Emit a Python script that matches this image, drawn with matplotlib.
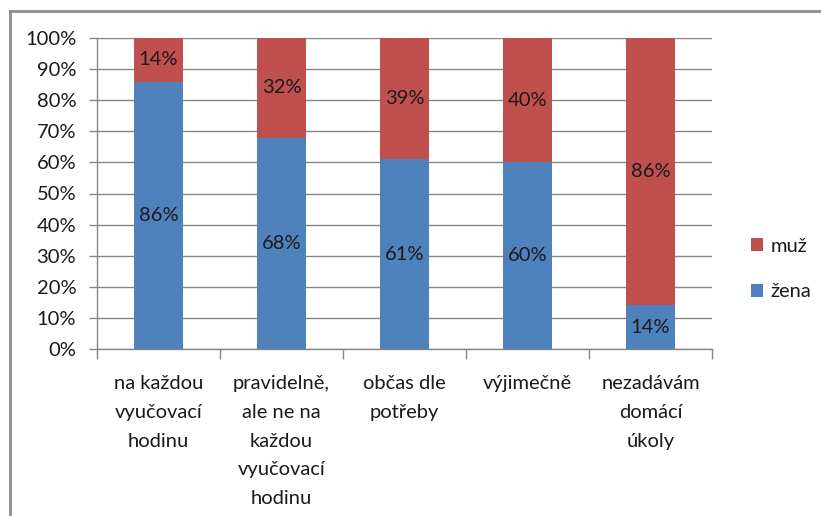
import matplotlib
matplotlib.use("Agg")
import matplotlib.pyplot as plt
from matplotlib.lines import Line2D
from matplotlib.patches import Patch
import numpy as np

plt.rcParams['font.family'] = ['Lato', 'DejaVu Sans']

categories = [
    "na každou\nvyučovací\nhodinu",
    "pravidelně,\nale ne na\nkaždou\nvyučovací\nhodinu",
    "občas dle\npotřeby",
    "výjimečně",
    "nezadávám\ndomácí\núkoly",
]
zena = [86, 68, 61, 60, 14]
muz = [14, 32, 39, 40, 86]
series_names = ["muž", "žena"]
ytick_values = list(range(0, 101, 10))

blue = "#4F81BD"
red = "#C0504D"
grid_col = "#868686"
text_col = "#1a1a1a"
fs = 14.5

fig = plt.figure(figsize=(8.21, 5.16), dpi=100)
ax = fig.add_axes([97/821, 1-349/516, 615/821, 311/516])

x = np.arange(len(categories))
w = 0.4
ax.bar(x, zena, width=w, color=blue, zorder=3)
ax.bar(x, muz, width=w, bottom=zena, color=red, zorder=3)

for i in range(len(categories)):
    ax.text(x[i], zena[i] / 2, f"{zena[i]}%", ha="center", va="center",
            fontsize=fs, color=text_col, zorder=4)
    ax.text(x[i], zena[i] + muz[i] / 2, f"{muz[i]}%", ha="center", va="center",
            fontsize=fs, color=text_col, zorder=4)

ax.set_xlim(-0.5, len(categories) - 0.5)
ax.set_ylim(0, 100)
ax.set_yticks(ytick_values)
ax.set_yticklabels([f"{v}%" for v in ytick_values], fontsize=fs, color=text_col)
ax.yaxis.grid(True, color=grid_col, lw=1, zorder=0)
ax.tick_params(axis="y", length=6, width=1, color=grid_col, pad=9)

ax.set_xticks(np.arange(-0.5, len(categories), 1.0))
ax.set_xticklabels([])
ax.tick_params(axis="x", which="major", length=7, width=1, color=grid_col)
ax.set_xticks(x, minor=True)
ax.set_xticklabels(categories, minor=True, fontsize=fs, color=text_col,
                   linespacing=1.83, va="top")
ax.tick_params(axis="x", which="minor", length=0, pad=19)

for s in ["top", "right"]:
    ax.spines[s].set_visible(False)
for s in ["left", "bottom"]:
    ax.spines[s].set_color(grid_col)
    ax.spines[s].set_linewidth(1)

handles = [Patch(facecolor=red), Patch(facecolor=blue)]
fig.legend(handles, series_names, loc="center left",
           bbox_to_anchor=(733/821, 1-269/516), frameon=False,
           fontsize=fs, handlelength=0.6, handleheight=0.6,
           handletextpad=0.35, labelspacing=1.42, labelcolor=text_col)

# outer frame
fig.add_artist(Line2D([10/821, 1.0], [1-11/516, 1-11/516], color="#8c8c8c", lw=2))
fig.add_artist(Line2D([10/821, 10/821], [0.0, 1-11/516], color="#8c8c8c", lw=2))

fig.savefig("out.png", dpi=100)
